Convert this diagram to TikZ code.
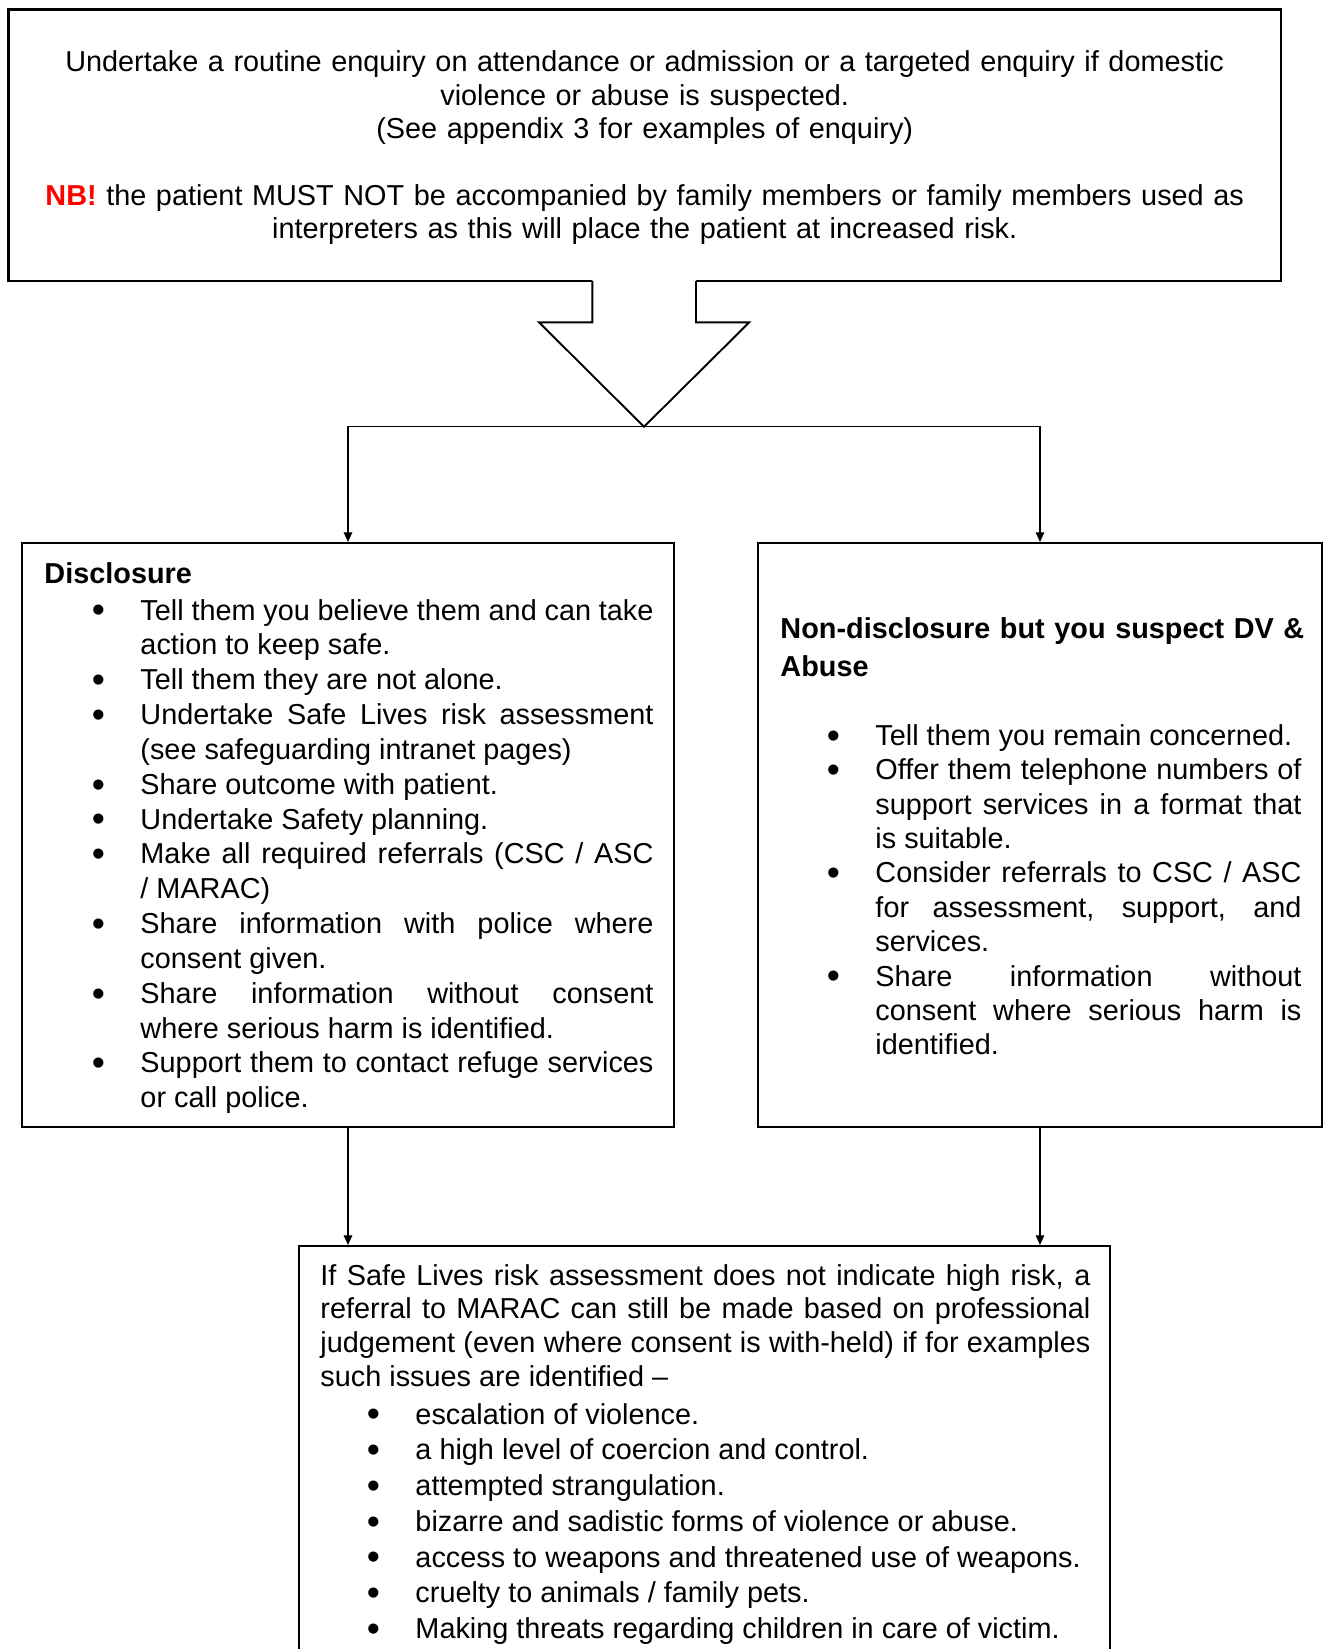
\documentclass[tikz,border=0pt]{standalone}
\usepackage{fontspec}
\setmainfont{Liberation Sans}
\usepackage{tikz}
\usetikzlibrary{arrows.meta,fit}

\newdimen\pxu
\pxu=0.4162pt
% text widths of the boxes
\newdimen\enqw \enqw=1250\pxu
\newdimen\discw \discw=513\pxu
\newdimen\ndhw \ndhw=535\pxu
\newdimen\ndw \ndw=426\pxu
\newdimen\marw \marw=770\pxu
\newdimen\marlw \marlw=700\pxu
\newdimen\bulgap \bulgap=35.5\pxu
\hyphenpenalty=10000
\exhyphenpenalty=10000
\newcommand\bul{\llap{\raisebox{-1.2pt}{\scalebox{1.3}{\textbullet}}\hspace{\bulgap}}}
\newcommand\bfirst{\leavevmode\bul}
\newcommand\bitem{\par\noindent\bul}

\begin{document}
\begin{tikzpicture}[x=\pxu, y=-\pxu,
    box/.style={draw, line width=0.9pt, inner sep=0pt},
    txt/.style={font=\fontsize{12}{14.1}\selectfont, inner sep=0pt, anchor=base west},
    para/.style={txt, align=justify},
    conn/.style={-{Triangle[length=4pt,width=3.6pt]}, line width=0.45pt}]
    \useasboundingbox (0,0) rectangle (1324,1649);
    \clip (0,0) rectangle (1324,1649);

    % Enquiry box
    \node[box, line width=1.1pt, fit={(8.4,9.5) (1281,281)}] (enq) {};
    \node[txt, anchor=base, align=center, text width=\enqw,
          font=\fontsize{12}{13.9}\selectfont] (enqtxt) at (644.7,71.7)
        {Undertake a routine enquiry on attendance or admission or a targeted enquiry if domestic\\
         violence or abuse is suspected.\\
         (See appendix 3 for examples of enquiry)\\[13.9pt]
         \textcolor{red}{\textbf{NB!}} the patient MUST NOT be accompanied by family members or family members used as\\
         interpreters as this will place the patient at increased risk.};

    % Block arrow
    \coordinate (tip) at (644,426.7);
    \fill[white] (592.3,278) -- (592.3,322.3) -- (539,322.3) -- (tip)
        -- (749.3,322.3) -- (696,322.3) -- (696,278) -- cycle;
    \draw[line width=0.8pt, line join=miter] (592.3,281) -- (592.3,322.3) -- (539,322.3) -- (tip)
        -- (749.3,322.3) -- (696,322.3) -- (696,281);

    % Disclosure box
    \node[box, fit={(22,543) (674,1127)}] (disc) {};
    \node[txt, font=\bfseries\fontsize{12}{14.1}\selectfont] (dischd) at (44,583.3) {Disclosure};
    \node[para, text width=\discw, font=\fontsize{12}{14.5}\selectfont] (disclist) at (140,620)
        {\bfirst Tell them you believe them and can take\linebreak action to keep safe.
         \bitem Tell them they are not alone.
         \bitem Undertake Safe Lives risk assessment\linebreak (see safeguarding intranet pages)
         \bitem Share outcome with patient.
         \bitem Undertake Safety planning.
         \bitem Make all required referrals (CSC / ASC\linebreak / MARAC)
         \bitem Share information with police where\linebreak consent given.
         \bitem Share information without consent\linebreak where serious harm is identified.
         \bitem Support them to contact refuge services\linebreak or call police.};

    % Non-disclosure box
    \node[box, fit={(758,543) (1322,1127)}] (nondisc) {};
    \node[txt, text width=\ndhw, align=left,
          font=\bfseries\fontsize{12}{15.8}\selectfont] (nondischd) at (780,638.3)
        {Non-disclosure but you suspect DV \&\\ Abuse};
    \node[para, text width=\ndw, font=\fontsize{12}{14.3}\selectfont] (nondisclist) at (875,745.5)
        {\bfirst Tell them you remain concerned.
         \bitem Offer them telephone numbers of\linebreak support services in a format that\linebreak is suitable.
         \bitem Consider referrals to CSC / ASC\linebreak for assessment, support, and\linebreak services.
         \bitem Share information without\linebreak consent where serious harm is\linebreak identified.};

    % MARAC box
    \node[box, fit={(299,1246) (1110,1700)}] (marac) {};
    \node[para, text width=\marw] (maractxt) at (320,1285)
        {If Safe Lives risk assessment does not indicate high risk, a\linebreak
         referral to MARAC can still be made based on professional\linebreak
         judgement (even where consent is with-held) if for examples\linebreak
         such issues are identified --};
    \node[para, text width=\marlw, font=\fontsize{12}{14.88}\selectfont] (maraclist) at (415,1424)
        {\bfirst escalation of violence.
         \bitem a high level of coercion and control.
         \bitem attempted strangulation.
         \bitem bizarre and sadistic forms of violence or abuse.
         \bitem access to weapons and threatened use of weapons.
         \bitem cruelty to animals / family pets.
         \bitem Making threats regarding children in care of victim.};

    % Connectors
    \draw[conn] (tip) -| (disc);
    \draw[conn] (tip) -| (nondisc);
    \draw[conn] (disc.south) -- (disc.south |- marac.north);
    \draw[conn] (nondisc.south) -- (nondisc.south |- marac.north);
\end{tikzpicture}
\end{document}
